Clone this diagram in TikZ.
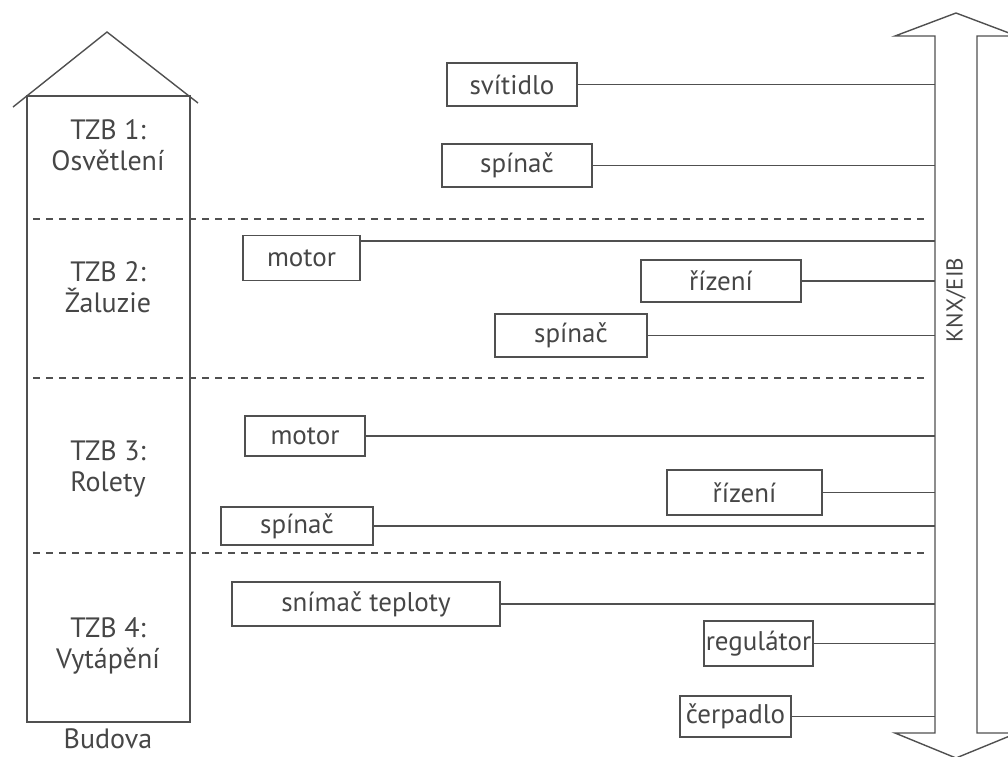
\documentclass[tikz,border=0pt]{standalone}
\usepackage{fontspec}
\setmainfont{PT Sans}
\usepackage{tikz}
\definecolor{lineGray}{RGB}{80, 80, 80}
\definecolor{textGray}{RGB}{70, 70, 70}

\begin{document}
\begin{tikzpicture}[x=1pt, y=-1pt,
    dev/.style={draw=lineGray, line width=1.4pt, text=textGray, inner sep=0pt},
    bus/.style={draw=lineGray, line width=1.4pt},
    sep/.style={draw=lineGray, line width=1.2pt, dash pattern=on 7pt off 6pt},
    lbl/.style={text=textGray, align=center, font=\fontsize{28}{31}\selectfont}]
      \useasboundingbox (0,0) rectangle (1008,756);
      \fontsize{27}{30}\selectfont

      % budova
      \draw[bus] (27,96) rectangle (190,722);
      \draw[bus] (13,107) -- (107,32) -- (198,103);
      \node[lbl] (tzb1) at (108,145) {TZB 1:\\Osvětlení};
      \node[lbl] (tzb2) at (108,287) {TZB 2:\\Žaluzie};
      \node[lbl] (tzb3) at (108,469) {TZB 3:\\Rolety};
      \node[lbl] (tzb4) at (108,646) {TZB 4:\\Vytápění};
      \node[lbl] (budova) at (108,739) {Budova};

      % hranice TZB
      \foreach \y in {219,378,553}
        \draw[sep] (33,\y) -- (925,\y);

      % sbernice KNX/EIB (sipka oboustranna)
      \draw[bus] (935,36) -- (895,36) -- (956,13) -- (1017,36) -- (977,36)
        -- (977,733) -- (1017,733) -- (956,758) -- (895,733) -- (935,733) -- cycle;
      \node[text=textGray, rotate=90, font=\fontsize{23}{26}\selectfont] (knx) at (956,300) {KNX/EIB};
      \coordinate (busL) at (935,0);

      % TZB 1
      \node[dev, minimum width=130, minimum height=43] (svitidlo) at (512,84.5) {svítidlo};
      \node[dev, minimum width=150, minimum height=43] (spinacA) at (517,165.5) {spínač};
      % TZB 2
      \node[dev, minimum width=117, minimum height=45] (motorA) at (301.5,258) {motor};
      \node[dev, minimum width=160, minimum height=42] (rizeniA) at (721,281) {řízení};
      \node[dev, minimum width=152, minimum height=43] (spinacB) at (571,335.5) {spínač};
      % TZB 3
      \node[dev, minimum width=120, minimum height=40] (motorB) at (305,436) {motor};
      \node[dev, minimum width=155, minimum height=45] (rizeniB) at (744.5,492.5) {řízení};
      \node[dev, minimum width=152, minimum height=38] (spinacC) at (297,526) {spínač};
      % TZB 4
      \node[dev, minimum width=268, minimum height=44] (snimac) at (366,604) {snímač teploty};
      \node[dev, minimum width=109, minimum height=45] (regulator) at (758.5,643.5) {regulátor};
      \node[dev, minimum width=111, minimum height=41] (cerpadlo) at (735.5,716.5) {čerpadlo};

      \foreach \n in {svitidlo,spinacA,rizeniA,spinacB,motorB,rizeniB,spinacC,snimac,regulator,cerpadlo}
        \draw[bus] (\n.east) -- (\n.east -| busL);
      \draw[bus] ([yshift=-6pt]motorA.north east) -- ([yshift=-6pt]motorA.north east -| busL);
\end{tikzpicture}
\end{document}
